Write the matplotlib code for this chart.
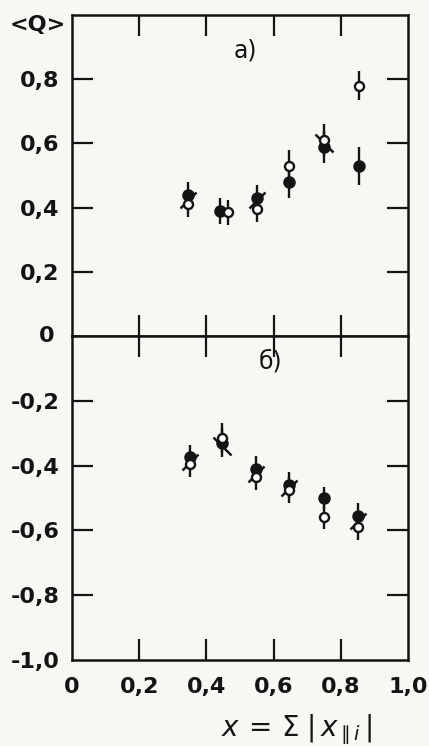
import numpy as np
import matplotlib.pyplot as plt
from matplotlib.markers import MarkerStyle
from matplotlib.transforms import Affine2D

# panel a) values
xa_full = [0.345, 0.44, 0.55, 0.645, 0.75, 0.855]
ya_full = [0.44, 0.39, 0.43, 0.48, 0.59, 0.53]
ea_full = [0.04, 0.04, 0.04, 0.05, 0.05, 0.06]
xa_open = [0.345, 0.465, 0.55, 0.645, 0.75, 0.855]
ya_open = [0.41, 0.385, 0.395, 0.53, 0.61, 0.78]
ea_open = [0.04, 0.04, 0.04, 0.05, 0.05, 0.045]
xa_slash = [0.345, 0.55]
ya_slash = [0.425, 0.425]
xa_back = [0.75]
ya_back = [0.60]

# panel b) values
xb_full = [0.35, 0.445, 0.548, 0.645, 0.75, 0.852]
yb_full = [-0.375, -0.33, -0.41, -0.46, -0.50, -0.555]
eb_full = [0.04, 0.045, 0.04, 0.04, 0.035, 0.04]
xb_open = [0.35, 0.445, 0.548, 0.645, 0.75, 0.852]
yb_open = [-0.395, -0.315, -0.435, -0.475, -0.56, -0.59]
eb_open = [0.04, 0.045, 0.04, 0.04, 0.035, 0.04]
xb_slash = [0.35, 0.548, 0.645, 0.852]
yb_slash = [-0.39, -0.425, -0.47, -0.57]
xb_back = [0.445]
yb_back = [-0.34]

ya_ticks = [0.2, 0.4, 0.6, 0.8]
ya_labels = ["0,2", "0,4", "0,6", "0,8"]
yb_ticks = [-1.0, -0.8, -0.6, -0.4, -0.2]
yb_labels = ["-1,0", "-0,8", "-0,6", "-0,4", "-0,2"]
x_ticks = [0, 0.2, 0.4, 0.6, 0.8, 1.0]
x_labels = ["0", "0,2", "0,4", "0,6", "0,8", "1,0"]

ink = "#141414"
paper = "#f7f7f4"

slash = MarkerStyle("|", transform=Affine2D().rotate_deg(-45))
back = MarkerStyle("|", transform=Affine2D().rotate_deg(45))

fig = plt.figure(figsize=(4.29, 7.46), dpi=100, facecolor=paper)
ax1 = fig.add_axes([0.168, 0.5496, 0.783, 0.4304])
ax2 = fig.add_axes([0.168, 0.1153, 0.783, 0.4343])


def draw(ax, xf, yf, ef, xo, yo, eo, xs, ys, xk, yk):
    ax.set_facecolor(paper)
    ax.plot(xs, ys, ls="none", marker=slash, ms=17, mew=1.8, color=ink, zorder=3)
    ax.plot(xk, yk, ls="none", marker=back, ms=18, mew=1.8, color=ink, zorder=3)
    ax.errorbar(xf, yf, yerr=ef, fmt="o", color=ink, ms=8, elinewidth=1.7,
                capsize=0, zorder=4)
    ax.errorbar(xo, yo, yerr=eo, fmt="o", color=ink, mfc="white", mec=ink,
                mew=1.7, ms=6.5, elinewidth=1.7, capsize=0, zorder=5)
    for s in ax.spines.values():
        s.set_linewidth(1.8)
        s.set_color(ink)
    ax.set_xlim(0, 1.0)


draw(ax1, xa_full, ya_full, ea_full, xa_open, ya_open, ea_open,
     xa_slash, ya_slash, xa_back, ya_back)
draw(ax2, xb_full, yb_full, eb_full, xb_open, yb_open, eb_open,
     xb_slash, yb_slash, xb_back, yb_back)

ax1.set_ylim(0, 1.0)
ax2.set_ylim(-1.0, 0)

ax1.set_xticks([0.2, 0.4, 0.6, 0.8])
ax1.set_xticklabels([])
ax1.set_yticks(ya_ticks)
ax1.set_yticklabels(ya_labels)
ax1.tick_params(axis="both", which="both", direction="in", color=ink,
                width=1.6, length=15, top=True, right=True, labelsize=16,
                labelcolor=ink, pad=9)

ax2.set_xticks(x_ticks)
ax2.set_xticklabels(x_labels)
ax2.set_yticks(yb_ticks)
ax2.set_yticklabels(yb_labels)
ax2.tick_params(axis="both", which="both", direction="in", color=ink,
                width=1.6, length=15, top=True, right=True, labelsize=16,
                labelcolor=ink, pad=9)
ax2.tick_params(axis="x", pad=12)
for t in [ax2.xaxis.get_major_ticks()[0], ax2.xaxis.get_major_ticks()[-1]]:
    t.tick1line.set_visible(False)
    t.tick2line.set_visible(False)
ax2.yaxis.get_major_ticks()[0].tick1line.set_visible(False)
ax2.yaxis.get_major_ticks()[0].tick2line.set_visible(False)

for lab in ax1.get_yticklabels() + ax2.get_yticklabels() + ax2.get_xticklabels():
    lab.set_fontweight("bold")

fig.text(0.128, 0.5496, "0", fontsize=16, fontweight="bold", color=ink,
         ha="right", va="center")
fig.text(0.087, 0.966, "<Q>", fontsize=16, fontweight="bold", color=ink,
         ha="center", va="center")
ax1.text(0.515, 0.89, "а)", fontsize=17, color=ink, ha="center", va="center",
         transform=ax1.transAxes)
ax2.text(0.592, 0.922, "б)", fontsize=17, color=ink, ha="center", va="center",
         transform=ax2.transAxes)
fig.text(0.692, 0.022, r"$x\,=\,\Sigma\;|\,x_{\parallel i}\,|$", fontsize=20,
         color=ink, ha="center", va="center")

plt.savefig("out.png", dpi=100, facecolor=paper)
